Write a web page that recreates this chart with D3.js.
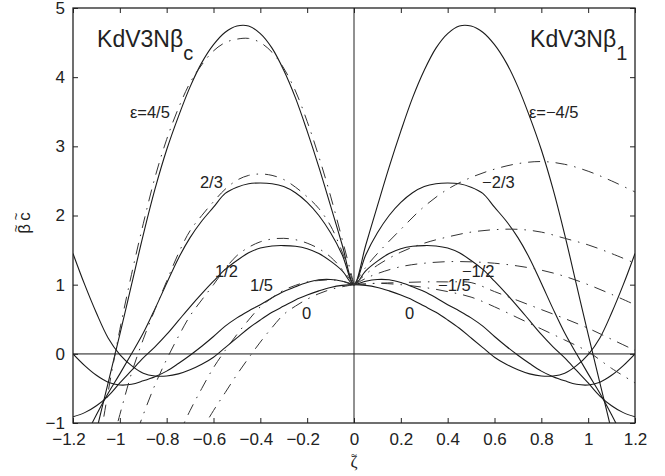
<!DOCTYPE html>
<html>
<head>
<meta charset="utf-8">
<script src="https://cdn.jsdelivr.net/npm/d3@7"></script>
<style>
  body { margin: 0; background: #fff; }
  text { font-family: "Liberation Sans", Arial, sans-serif; fill: #222; }
</style>
</head>
<body>
<div id="chart"></div>
<script>
// sample points (zeta >= 0) for the exact curves, which are even in zeta
const zetaHalf = [0, 0.05, 0.1, 0.15, 0.2, 0.25, 0.3, 0.35, 0.4, 0.45, 0.5, 0.55, 0.6,
                  0.65, 0.7, 0.75, 0.8, 0.85, 0.9, 0.95, 1.0, 1.05, 1.1, 1.15, 1.2];

// exact solution, solid curves (|eps| = 0, 1/5, 1/2, 2/3, 4/5)
const exact0  = [1.00, 0.99, 0.96, 0.91, 0.85, 0.78, 0.69, 0.60, 0.49, 0.37, 0.23, 0.09, -0.05,
                 -0.15, -0.23, -0.29, -0.32, -0.32, -0.28, -0.17, -0.01, 0.23, 0.59, 1.00, 1.45];
const exact15 = [1.00, 1.05, 1.075, 1.07, 1.03, 0.97, 0.90, 0.81, 0.71, 0.62, 0.52, 0.40, 0.25,
                 0.11, -0.02, -0.14, -0.25, -0.33, -0.39, -0.44, -0.45, -0.41, -0.31, -0.17, 0.00];
const exact12 = [1.00, 1.20, 1.34, 1.45, 1.52, 1.555, 1.565, 1.56, 1.53, 1.46, 1.35, 1.22, 1.05,
                 0.87, 0.68, 0.48, 0.28, 0.10, -0.06, -0.24, -0.42, -0.61, -0.75, -0.85, -0.91];
const exact23 = [1.00, 1.43, 1.75, 2.00, 2.19, 2.33, 2.42, 2.46, 2.47, 2.46, 2.41, 2.32, 2.12,
                 1.92, 1.68, 1.38, 1.02, 0.65, 0.30, 0.00, -0.29, -0.57, -0.88, -1.22, -1.60];
const exact45 = [1.00, 1.57, 2.14, 2.70, 3.22, 3.70, 4.10, 4.42, 4.63, 4.74, 4.74, 4.65, 4.47,
                 4.21, 3.86, 3.43, 2.95, 2.38, 1.72, 1.00, 0.28, -0.42, -1.12, -1.90, -2.70];

// KdV3N beta_c approximations (left panel, zeta <= 0)
const zetaL = [0, -0.05, -0.1, -0.15, -0.2, -0.25, -0.3, -0.35, -0.4, -0.45, -0.5, -0.55, -0.6,
               -0.65, -0.7, -0.75, -0.8, -0.85, -0.9, -0.95, -1.0, -1.05, -1.1];
const betaC0  = [1.00, 0.97, 0.93, 0.87, 0.79, 0.69, 0.57, 0.38, 0.17, -0.06, -0.30, -0.56, -0.82, -1.10];
const betaC15 = [1.00, 1.05, 1.07, 1.06, 1.04, 0.99, 0.92, 0.81, 0.68, 0.49, 0.28, 0.05, -0.20, -0.50, -0.82, -1.18];
const betaC12 = [1.00, 1.22, 1.40, 1.52, 1.60, 1.65, 1.67, 1.66, 1.62, 1.54, 1.42, 1.23, 1.00,
                 0.78, 0.55, 0.25, -0.08, -0.45, -0.88, -1.35];
const betaC23 = [1.00, 1.47, 1.85, 2.10, 2.27, 2.41, 2.52, 2.58, 2.60, 2.58, 2.51, 2.38, 2.20,
                 2.00, 1.78, 1.45, 1.05, 0.64, 0.21, -0.28, -0.88, -1.50];
const betaC45 = [1.00, 1.65, 2.28, 2.85, 3.36, 3.80, 4.13, 4.36, 4.50, 4.56, 4.55, 4.50, 4.38,
                 4.18, 3.92, 3.55, 3.10, 2.55, 1.88, 1.15, 0.35, -0.55, -1.55];

// KdV3N beta_1 approximations (right panel, zeta >= 0)
const zetaR = [0, 0.05, 0.1, 0.2, 0.3, 0.4, 0.5, 0.6, 0.7, 0.8, 0.9, 1.0, 1.1, 1.2];
const beta1A = [1.00, 1.25, 1.45, 1.80, 2.13, 2.38, 2.55, 2.67, 2.75, 2.78, 2.74, 2.64, 2.50, 2.34];
const beta1B = [1.00, 1.15, 1.28, 1.47, 1.60, 1.69, 1.76, 1.795, 1.80, 1.76, 1.67, 1.575, 1.45, 1.31];
const beta1C = [1.00, 1.09, 1.16, 1.26, 1.31, 1.333, 1.33, 1.31, 1.27, 1.21, 1.12, 1.00, 0.86, 0.71];
const beta1D = [1.00, 1.01, 1.02, 1.03, 1.04, 1.04, 1.03, 0.90, 0.77, 0.64, 0.51, 0.37, 0.21, 0.05];
const beta1E = [1.00, 1.01, 1.02, 1.00, 0.96, 0.90, 0.82, 0.68, 0.52, 0.36, 0.20, 0.03, -0.21, -0.42];

const xTicks = [-1.2, -1, -0.8, -0.6, -0.4, -0.2, 0, 0.2, 0.4, 0.6, 0.8, 1, 1.2];
const yTicks = [-1, 0, 1, 2, 3, 4, 5];

// curve labels: [text, zeta, value]
const curveLabels = [
  ["ε=4/5", -0.957, 3.41], ["2/3", -0.658, 2.40], ["1/2", -0.594, 1.11],
  ["1/5", -0.444, 0.91], ["0", -0.222, 0.50],
  ["ε=−4/5", 0.747, 3.41], ["−2/3", 0.547, 2.40], ["−1/2", 0.461, 1.11],
  ["−1/5", 0.359, 0.91], ["0", 0.218, 0.50]
];

const svgWidth = 665, svgHeight = 476;
const margin = { top: 8, right: 30, bottom: 53, left: 73 };

const svg = d3.select("#chart").append("svg")
  .attr("width", svgWidth).attr("height", svgHeight);

const xScale = d3.scaleLinear().domain([-1.2, 1.2]).range([margin.left, svgWidth - margin.right]);
const yScale = d3.scaleLinear().domain([-1, 5]).range([svgHeight - margin.bottom, margin.top]);

svg.append("clipPath").attr("id", "plotClip")
  .append("rect")
  .attr("x", xScale(-1.2)).attr("y", yScale(5))
  .attr("width", xScale(1.2) - xScale(-1.2))
  .attr("height", yScale(-1) - yScale(5));

const line = d3.line()
  .x(d => xScale(d[0]))
  .y(d => yScale(d[1]))
  .curve(d3.curveCatmullRom.alpha(0.5));

const plot = svg.append("g").attr("clip-path", "url(#plotClip)");

// zero lines
plot.append("line")
  .attr("x1", xScale(-1.2)).attr("x2", xScale(1.2))
  .attr("y1", yScale(0)).attr("y2", yScale(0))
  .attr("stroke", "#7a7a7a").attr("stroke-width", 1.7);
plot.append("line")
  .attr("x1", xScale(0)).attr("x2", xScale(0))
  .attr("y1", yScale(-1)).attr("y2", yScale(5))
  .attr("stroke", "#222").attr("stroke-width", 1);

// exact curves: mirror the half table onto zeta < 0
function evenCurve(vals) {
  const left = zetaHalf.map((z, i) => [-z, vals[i]]).reverse();
  const right = zetaHalf.map((z, i) => [z, vals[i]]).slice(1);
  return left.concat(right);
}
[exact0, exact15, exact12, exact23, exact45].forEach(vals => {
  plot.append("path")
    .attr("d", line(evenCurve(vals)))
    .attr("fill", "none")
    .attr("stroke", "#1a1a1a")
    .attr("stroke-width", 1.1);
});

// approximations
const pairs = (zs, vals) => vals.map((v, i) => [zs[i], v]);
const approx = [
  pairs(zetaL, betaC0), pairs(zetaL, betaC15), pairs(zetaL, betaC12),
  pairs(zetaL, betaC23), pairs(zetaL, betaC45),
  pairs(zetaR, beta1A), pairs(zetaR, beta1B), pairs(zetaR, beta1C),
  pairs(zetaR, beta1D), pairs(zetaR, beta1E)
];
approx.forEach(pts => {
  plot.append("path")
    .attr("d", line(pts))
    .attr("fill", "none")
    .attr("stroke", "#333")
    .attr("stroke-width", 1)
    .attr("stroke-dasharray", "12,7,1.5,7");
});

// axes
const tickFmt = d => (d < 0 ? "−" : "") + Math.abs(d);

const xAxis = svg.append("g")
  .attr("transform", `translate(0,${yScale(-1)})`)
  .call(d3.axisBottom(xScale).tickValues(xTicks).tickSize(-5).tickPadding(10).tickFormat(tickFmt));
xAxis.selectAll("text").attr("x", d => d < 0 ? -4.5 : 0);

const yAxis = svg.append("g")
  .attr("transform", `translate(${xScale(-1.2)},0)`)
  .call(d3.axisLeft(yScale).tickValues(yTicks).tickSize(-5).tickPadding(8).tickFormat(tickFmt));

svg.append("g")
  .attr("transform", `translate(0,${yScale(5)})`)
  .call(d3.axisTop(xScale).tickValues(xTicks).tickSize(-5).tickFormat(""));
svg.append("g")
  .attr("transform", `translate(${xScale(1.2)},0)`)
  .call(d3.axisRight(yScale).tickValues(yTicks).tickSize(-5).tickFormat(""));

svg.selectAll(".domain").remove();
svg.selectAll(".tick line").attr("stroke", "#222");
svg.selectAll(".tick text").attr("font-size", "17px")
  .attr("font-family", "'Liberation Sans', Arial, sans-serif").attr("fill", "#222");

svg.append("rect")
  .attr("x", xScale(-1.2)).attr("y", yScale(5))
  .attr("width", xScale(1.2) - xScale(-1.2))
  .attr("height", yScale(-1) - yScale(5))
  .attr("fill", "none").attr("stroke", "#222").attr("stroke-width", 1.3);

// y axis label: beta~ c~ (rotated), one text with positioned tspans
const yLab = svg.append("text")
  .attr("transform", `translate(30,${yScale(1.9)}) rotate(-90)`)
  .attr("text-anchor", "middle");
yLab.append("tspan").attr("x", -6.5).attr("y", 0).attr("font-size", "17px").text("β");
yLab.append("tspan").attr("x", 6).attr("y", 0).attr("font-size", "17px").text("c");
yLab.append("tspan").attr("x", -6).attr("y", -10).attr("font-size", "13px").text("~");
yLab.append("tspan").attr("x", 6).attr("y", -10).attr("font-size", "13px").text("~");

// x axis label: zeta with tilde above, one text element
const xLab = svg.append("text")
  .attr("text-anchor", "middle")
  .style("font-family", "'Liberation Serif', 'DejaVu Serif', serif");
xLab.append("tspan").attr("x", xScale(0)).attr("y", 467).attr("font-size", "17px").text("ζ");
xLab.append("tspan").attr("x", xScale(0)).attr("y", 458).attr("font-size", "11px").text("~");

// panel titles
const titleL = svg.append("text")
  .attr("x", xScale(-1.097)).attr("y", yScale(4.43))
  .attr("font-size", "23px");
titleL.append("tspan").text("KdV3Nβ");
titleL.append("tspan").attr("dy", 13).attr("font-size", "20px").text("c");

const titleR = svg.append("text")
  .attr("x", xScale(0.752)).attr("y", yScale(4.43))
  .attr("font-size", "23px");
titleR.append("tspan").text("KdV3Nβ");
titleR.append("tspan").attr("dy", 13).attr("font-size", "20px").text("1");

// curve labels
svg.selectAll(".clabel")
  .data(curveLabels)
  .enter()
  .append("text")
  .attr("class", "clabel")
  .attr("x", d => xScale(d[1]))
  .attr("y", d => yScale(d[2]))
  .attr("font-size", "16.5px")
  .text(d => d[0]);
</script>
</body>
</html>
